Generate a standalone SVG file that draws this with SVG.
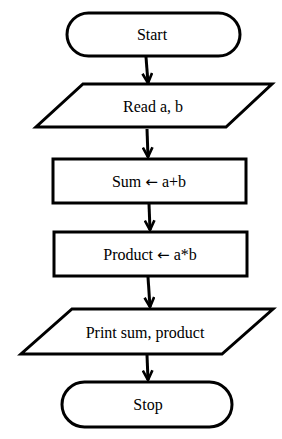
<svg xmlns="http://www.w3.org/2000/svg" width="282" height="439" viewBox="0 0 282 439">
<defs>
<style>
.s{fill:#fff;stroke:#000;stroke-width:3;stroke-linejoin:miter}
.t{font-family:"Liberation Serif","Times New Roman",serif;font-size:16px;fill:#000;text-anchor:middle}
.ar{font-family:"DejaVu Sans",sans-serif;font-size:15px}
.c{fill:none;stroke:#000;stroke-width:3}
</style>
<marker id="ah" viewBox="0 0 10 10" refX="9" refY="5" markerWidth="4" markerHeight="4" orient="auto" markerUnits="strokeWidth">
<path d="M1,1 L9,5 L1,9" fill="none" stroke="#000" stroke-width="2.2"/>
</marker>
</defs>
<rect width="282" height="439" fill="#fff"/>
<g id="connectors">
<line class="c" x1="146" y1="57" x2="148" y2="83" marker-end="url(#ah)"/>
<line class="c" x1="147" y1="129" x2="148" y2="157" marker-end="url(#ah)"/>
<line class="c" x1="149" y1="204" x2="150" y2="230" marker-end="url(#ah)"/>
<line class="c" x1="148" y1="277" x2="150" y2="307" marker-end="url(#ah)"/>
<line class="c" x1="147" y1="355" x2="148" y2="380" marker-end="url(#ah)"/>
</g>
<g id="start">
<rect class="s" x="67" y="13" width="173" height="43" rx="21.5" ry="21.5"/>
<text class="t" x="152" y="40">Start</text>
</g>
<g id="read">
<polygon class="s" points="83,84 272,84 226,127 36,127"/>
<text class="t" x="153" y="112">Read a, b</text>
</g>
<g id="sum">
<rect class="s" x="53" y="159" width="193" height="44"/>
<text class="t" x="149" y="187">Sum <tspan class="ar">←</tspan> a+b</text>
</g>
<g id="product">
<rect class="s" x="54" y="232" width="193" height="44"/>
<text class="t" x="150" y="260">Product <tspan class="ar">←</tspan> a*b</text>
</g>
<g id="print">
<polygon class="s" points="72,309 273,309 222,354 21,354"/>
<text class="t" x="145" y="338">Print sum, product</text>
</g>
<g id="stop">
<rect class="s" x="62" y="382" width="170" height="45" rx="22.5" ry="22.5"/>
<text class="t" x="148" y="410">Stop</text>
</g>
</svg>
